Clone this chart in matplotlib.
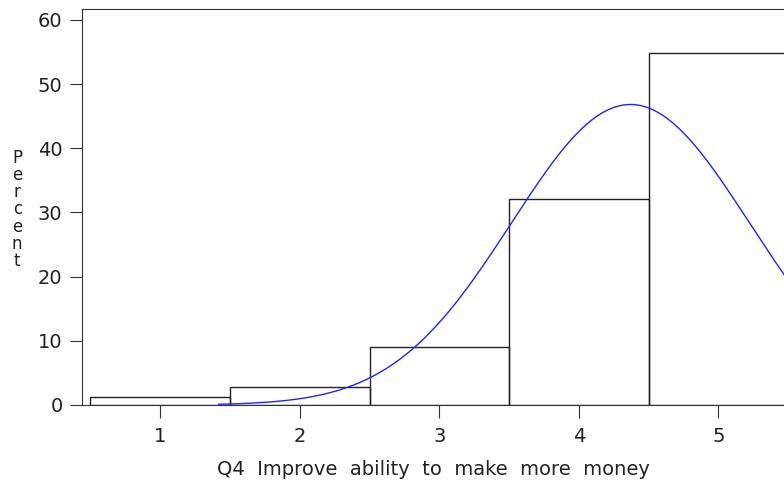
import numpy as np
import matplotlib.pyplot as plt
from matplotlib import font_manager

names = {f.name for f in font_manager.fontManager.ttflist}
plt.rcParams['font.family'] = 'Liberation Sans Narrow' if 'Liberation Sans Narrow' in names else 'DejaVu Sans'

# histogram of responses (percent) and fitted normal curve
categories = [1, 2, 3, 4, 5]
percents = [1.2, 2.8, 9.0, 32.1, 54.9]
fit_mean = 4.37
fit_sd = 0.852

fig = plt.figure(figsize=(7.84, 4.87), dpi=100)
ax = fig.add_axes([0.1046, 0.1684, 0.8954, 0.8131])

ax.bar(categories, percents, width=1.0, fill=False, edgecolor='#222222', linewidth=1)

xs = np.linspace(1.42, 5.6, 300)
pdf = 100 / (fit_sd * np.sqrt(2 * np.pi)) * np.exp(-0.5 * ((xs - fit_mean) / fit_sd) ** 2)
ax.plot(xs, pdf, color='#2222ff', linewidth=1)

ax.set_xlim(0.44, 5.47)
ax.set_ylim(0, 61.7)
ax.set_xticks(categories)
ax.set_yticks([0, 10, 20, 30, 40, 50, 60])
ax.spines['right'].set_visible(False)
for s in ax.spines.values():
    s.set_color('#333333')
ax.tick_params(direction='out', length=9, color='#333333', labelsize=14, labelcolor='#222222')
ax.tick_params(axis='x', pad=7)
ax.tick_params(axis='y', pad=5)

ax.set_xlabel('Q4  Improve  ability  to  make  more  money', fontsize=14, color='#222222', labelpad=10)
fig.text(0.022, 0.57, '\n'.join('Percent'), fontsize=12, color='#222222',
         ha='center', va='center', linespacing=0.95)

fig.savefig('out.png', dpi=100)
